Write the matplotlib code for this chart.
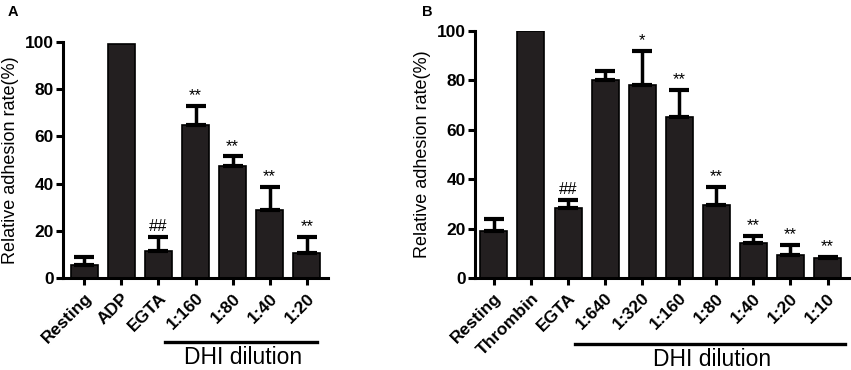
import matplotlib.pyplot as plt
import matplotlib.transforms as mtransforms

plt.rcParams['font.family'] = ['Liberation Sans', 'DejaVu Sans']

# Panel A data
cats_a = ["Resting", "ADP", "EGTA", "1:160", "1:80", "1:40", "1:20"]
vals_a = [5.3, 99, 11.5, 65, 47.5, 29, 10.5]
errs_a = [3.8, 0, 6, 8, 4, 9.5, 7]
marks_a = ["", "", "##", "**", "**", "**", "**"]

# Panel B data
cats_b = ["Resting", "Thrombin", "EGTA", "1:640", "1:320", "1:160", "1:80", "1:40", "1:20", "1:10"]
vals_b = [19, 100, 28.5, 80, 78, 65, 29.5, 14, 9.5, 8]
errs_b = [5, 0, 3, 4, 14, 11, 7.5, 3, 4, 0.3]
marks_b = ["", "", "##", "", "*", "**", "**", "**", "**", "**"]

bar_color = "#231f20"

fig = plt.figure(figsize=(8.51, 3.70), dpi=100)
ax_a = fig.add_axes([63/851, 92/370, 265/851, 236/370])
ax_b = fig.add_axes([475/851, 92/370, 374/851, 247/370])


def draw_panel(ax, cats, vals, errs, marks, xlim, line_x, line_y, text_y):
    x = list(range(len(cats)))
    ax.bar(x, vals, width=0.73, color=bar_color, edgecolor="black", linewidth=1.2, zorder=2)
    # upward-only error bars
    for xi, v, e in zip(x, vals, errs):
        if e > 0:
            ax.errorbar(xi, v, yerr=[[0], [e]], fmt="none", ecolor="black",
                        elinewidth=2.5, capsize=7, capthick=3, zorder=3, clip_on=False)
    for xi, v, e, m in zip(x, vals, errs, marks):
        if m:
            ax.text(xi, v + e + 1.2, m, ha="center", va="bottom", fontsize=12,
                    clip_on=False)
    ax.set_xlim(*xlim)
    ax.set_ylim(0, 100)
    ax.set_yticks([0, 20, 40, 60, 80, 100])
    ax.set_xticks(x)
    ax.set_xticklabels(cats, rotation=45, ha="right", rotation_mode="anchor",
                       fontsize=12.5, fontweight="bold")
    for lab in ax.get_yticklabels():
        lab.set_fontsize(12.5)
        lab.set_fontweight("bold")
    ax.spines["top"].set_visible(False)
    ax.spines["right"].set_visible(False)
    ax.spines["left"].set_linewidth(2.2)
    ax.spines["bottom"].set_linewidth(2.2)
    ax.tick_params(axis="both", direction="out", length=5, width=2.2, pad=1.5)
    ax.tick_params(axis="x", pad=4)
    ax.set_ylabel("Relative adhesion rate(%)", fontsize=13, labelpad=4)
    trans = mtransforms.blended_transform_factory(ax.transData, ax.transAxes)
    ax.plot(line_x, [line_y, line_y], color="black", linewidth=2.4,
            transform=trans, clip_on=False)
    ax.text(sum(line_x) / 2 + 0.05, text_y, "DHI dilution", transform=trans,
            ha="center", va="center", fontsize=16.5)


draw_panel(ax_a, cats_a, vals_a, errs_a, marks_a, (-0.57, 6.57),
           [2.18, 6.28], -0.271, -0.335)
draw_panel(ax_b, cats_b, vals_b, errs_b, marks_b, (-0.51, 9.58),
           [2.19, 9.46], -0.267, -0.33)

fig.text(8/851, 1 - 12/370, "A", fontsize=10.5, fontweight="bold", va="center")
fig.text(422/851, 1 - 12/370, "B", fontsize=10.5, fontweight="bold", va="center")

fig.savefig("out.png", dpi=100)
